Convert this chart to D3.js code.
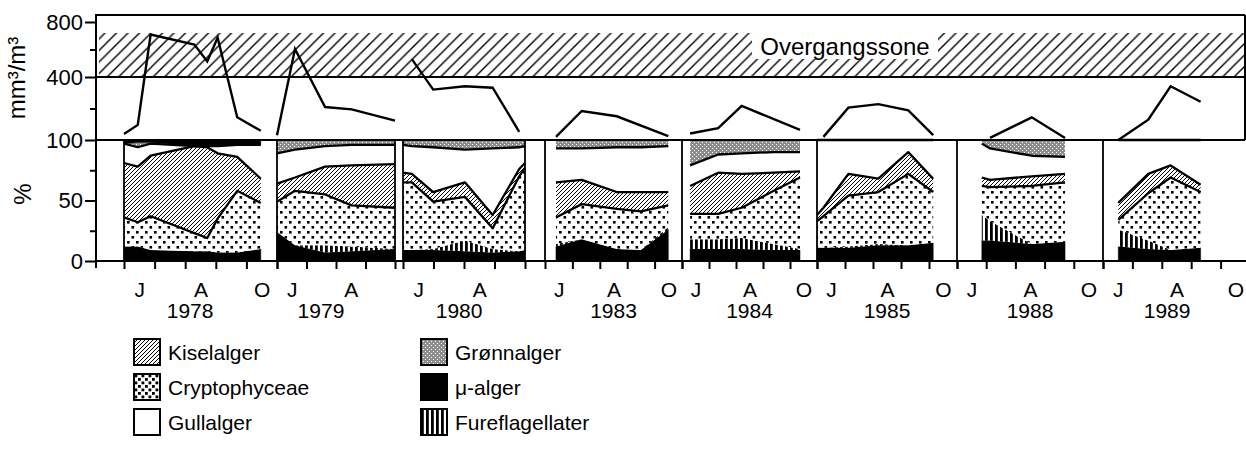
<!DOCTYPE html>
<html><head><meta charset="utf-8">
<script src="https://cdn.jsdelivr.net/npm/d3@7"></script>
<style>
html,body{margin:0;padding:0;background:#fff;}
svg{display:block;font-family:"Liberation Sans",Arial,Helvetica,sans-serif;}
</style></head><body>
<svg id="chart" width="1246" height="469"></svg>
<script>
// ---------------- DATA ----------------
const years = ["1978","1979","1980","1983","1984","1985","1988","1989"];
const seriesNames = ["μ-alger","Fureflagellater","Cryptophyceae","Kiselalger","Gullalger","Grønnalger","Andre"];
// sampling dates as month number (6 = 1 June, 7 = 1 July ...)
const sampleMonths = [
  [6.0, 6.45, 6.87, 8.30, 8.72, 9.06, 9.70, 10.47],
  [6.0, 6.61, 7.63, 8.53, 10.0],
  [6.0, 6.29, 6.99, 8.03, 8.94, 9.81, 10.0],
  [6.4, 7.34, 8.62, 9.5, 10.5],
  [6.3, 7.34, 8.21, 9.4, 10.37],
  [6.0, 6.23, 7.12, 8.19, 9.26, 10.15],
  [6.85, 7.13, 8.56, 9.70],
  [6.52, 7.54, 8.30, 9.32]
];
// total biomass, mm3/m3 (null = no value)
const biomass = [
  [128, 172, 709, 636, 513, 685, 208, 144],
  [123, 604, 257, 246, 192],
  [null, 530, 340, 356, 349, 139, null],
  [115, 238, 213, null, 118],
  [131, 156, 262, null, 148],
  [null, 115, 254, 271, 241, 123],
  [null, 110, 208, 110],
  [100, 197, 356, 282]
];
// composition, % of biomass
const muAlger = [
  [12, 12, 9, 8, 8, 7, 7, 10],
  [24, 13, 7, 8, 10],
  [9, 9, 9, 8, 7, 8, 9],
  [12, 18, 10, 9, 26],
  [10, 10, 10, 9, 9],
  [11, 11, 11, 13, 13, 15],
  [17, 17, 14, 16],
  [12, 10, 9, 11]
];
const fureflagellater = [
  [0, 0, 0, 0, 0, 0, 0, 0],
  [0, 0, 6, 4, 0],
  [0, 0, 1, 9, 3, 0, 0],
  [2, 0, 0, 0, 2],
  [8, 8, 9, 5, 1],
  [0, 0, 1, 1, 0, 0],
  [21, 16, 0, 0],
  [14, 7, 0, 0]
];
const cryptophyceae = [
  [24, 20, 28, 15, 11, 28, 51, 38],
  [25, 45, 42, 34, 34],
  [56, 56, 39, 36, 17, 62, 68],
  [22, 29, 33, 32, 18],
  [21, 21, 25, 44, 59],
  [22, 26, 42, 43, 59, 42],
  [24, 28, 48, 49],
  [8, 39, 60, 46]
];
const kiselalger = [
  [45, 46, 50, 72, 75, 54, 28, 20],
  [15, 11, 23, 33, 36],
  [8, 7, 8, 12, 11, 6, 4],
  [29, 20, 14, 16, 11],
  [23, 34, 28, 15, 5],
  [5, 7, 18, 11, 18, 11],
  [7, 6, 8, 7],
  [14, 16, 10, 6]
];
const gullalger = [
  [16, 16, 10, 0, 1, 6, 10, 28],
  [25, 23, 17, 17, 16],
  [23, 23, 37, 27, 55, 18, 14],
  [28, 26, 37, 37, 38],
  [17, 15, 17, 17, 16],
  [62, 56, 28, 32, 10, 32],
  [28, 26, 17, 14],
  [52, 28, 21, 37]
];
const gronnalger = [
  [0, 4, 1, 0, 0, 0, 0, 0],
  [11, 8, 5, 4, 4],
  [4, 5, 6, 8, 7, 6, 5],
  [7, 7, 6, 6, 5],
  [21, 12, 11, 10, 10],
  [0, 0, 0, 0, 0, 0],
  [3, 7, 13, 14],
  [0, 0, 0, 0]
];
const andre = [
  [3, 2, 2, 5, 5, 5, 4, 4],
  [0, 0, 0, 0, 0],
  [0, 0, 0, 0, 0, 0, 0],
  [0, 0, 0, 0, 0],
  [0, 0, 0, 0, 0],
  [0, 0, 0, 0, 0, 0],
  [0, 0, 0, 0],
  [0, 0, 0, 0]
];
const topTicks = [100, 400, 800];
const topMinorTicks = [250, 600];
const bottomTicks = [0, 50, 100];
const bottomMinorTicks = [25, 75];
const monthTickValues = [6, 7, 8, 9, 10, 11];
const monthLabelText = ["J", "A", "O"];
const monthLabelPos = [6.5, 8.5, 10.5];
const transitionZone = [400, 720];
const zoneLabel = "Overgangssone";
const topAxisTitle = "mm³/m³";
const bottomAxisTitle = "%";
const legendNames = ["Kiselalger","Cryptophyceae","Gullalger","Grønnalger","μ-alger","Fureflagellater"];

// ---------------- LAYOUT ----------------
const W = 1246, H = 469;
const axisX = 96, rightX = 1245;
const topY = 15, midY = 140, baseY = 261;
const panelRange = [[124,277],[277,395],[403,525],[545,682],[682,817],[817,957],[957,1103],[1103,1250]];
const panelDomain = [[6,11],[6,10],[6,10],[6,11],[6,11],[6,11],[6,11],[6,11]];
const yearLabelAt = [8.16, 7.49, 7.84, 8.5, 8.5, 8.5, 8.5, 8.18];

const svg = d3.select("#chart");
svg.append("rect").attr("width",W).attr("height",H).attr("fill","#fff");
const defs = svg.append("defs");
function pat(id,w,h,bg){const p=defs.append("pattern").attr("id",id).attr("patternUnits","userSpaceOnUse").attr("width",w).attr("height",h);p.append("rect").attr("width",w).attr("height",h).attr("fill",bg||"#fff");return p;}
let p = pat("pKisel",4,4);
p.append("path").attr("d","M-1,1L1,-1M0,4L4,0M3,5L5,3").attr("stroke","#000").attr("stroke-width",1);
p = pat("pDots",9,10);
p.append("rect").attr("x",1).attr("y",1).attr("width",2.6).attr("height",2.6).attr("fill","#000");
p.append("rect").attr("x",5.5).attr("y",6).attr("width",2.6).attr("height",2.6).attr("fill","#000");
p = pat("pGreen",4,4,"#8c8c8c");
p.append("rect").attr("x",0).attr("y",0).attr("width",1).attr("height",1).attr("fill","#fff");
p.append("rect").attr("x",2).attr("y",2).attr("width",1).attr("height",1).attr("fill","#fff");
p = pat("pFure",5,10);
p.append("rect").attr("x",0).attr("y",0).attr("width",2.8).attr("height",10).attr("fill","#000");
p = pat("pZone",11.5,11.5);
p.append("path").attr("d","M0,11.5L11.5,0M-2,2L2,-2M9.5,13.5L13.5,9.5").attr("stroke","#000").attr("stroke-width",1.4);
p = pat("pDotsL",7,7);
p.append("rect").attr("x",0.5).attr("y",0.5).attr("width",2.8).attr("height",2.8).attr("fill","#000");
p.append("rect").attr("x",4).attr("y",4).attr("width",2.8).attr("height",2.8).attr("fill","#000");

const fills = {"μ-alger":"#000","Fureflagellater":"url(#pFure)","Cryptophyceae":"url(#pDots)","Kiselalger":"url(#pKisel)","Gullalger":"#fff","Grønnalger":"url(#pGreen)","Andre":"#000"};
const seriesData = {"μ-alger":muAlger,"Fureflagellater":fureflagellater,"Cryptophyceae":cryptophyceae,"Kiselalger":kiselalger,"Gullalger":gullalger,"Grønnalger":gronnalger,"Andre":andre};

const yTop = d3.scaleLinear().domain([100,400,800]).range([midY,77,22]);
const yBot = d3.scaleLinear().domain([0,100]).range([baseY,midY]);

// ---- top panel ----
svg.append("rect").attr("x",axisX+3).attr("y",yTop(transitionZone[1])).attr("width",rightX-axisX-4)
  .attr("height",yTop(transitionZone[0])-yTop(transitionZone[1])).attr("fill","url(#pZone)");
svg.append("rect").attr("x",752).attr("y",yTop(transitionZone[1])-1).attr("width",186).attr("height",27).attr("fill","#fff");
svg.append("text").attr("x",845).attr("y",55).attr("text-anchor","middle").attr("font-size",24).text(zoneLabel);
const frame = svg.append("g").attr("stroke","#000").attr("fill","none");
frame.append("line").attr("x1",axisX).attr("x2",rightX).attr("y1",topY).attr("y2",topY).attr("stroke-width",2);
frame.append("line").attr("x1",rightX).attr("x2",rightX).attr("y1",topY).attr("y2",midY).attr("stroke-width",2);
frame.append("line").attr("x1",axisX).attr("x2",rightX).attr("y1",yTop(400)).attr("y2",yTop(400)).attr("stroke-width",2);

// ---- bottom panels ----
const gB = svg.append("g");
years.forEach((yr,i)=>{
  const x = d3.scaleLinear().domain(panelDomain[i]).range(panelRange[i]);
  const rows = sampleMonths[i].map((m,j)=>{const r={m}; seriesNames.forEach(k=>r[k]=seriesData[k][i][j]); return r;});
  const stacked = d3.stack().keys(seriesNames)(rows);
  const area = d3.area().x(d=>x(d.data.m)).y0(d=>yBot(d[0])).y1(d=>yBot(d[1]));
  gB.append("g").selectAll("path").data(stacked).join("path").attr("d",area).attr("fill",s=>fills[s.key]).attr("stroke",s=>fills[s.key]==="#000"?"#000":"none").attr("stroke-width",0.5);
  const edge = d3.line().x(d=>x(d.data.m)).y(d=>yBot(d[1]));
  gB.append("g").selectAll("path").data(stacked.filter(s=>["Cryptophyceae","Kiselalger","Gullalger"].includes(s.key)))
    .join("path").attr("d",edge).attr("fill","none").attr("stroke","#000").attr("stroke-width",2.3).attr("stroke-linejoin","round");
  // biomass line
  const pts = sampleMonths[i].map((m,j)=>[m,biomass[i][j]]).filter(d=>d[1]!=null);
  svg.append("path").attr("d",d3.line().x(d=>x(d[0])).y(d=>yTop(d[1]))(pts)).attr("fill","none").attr("stroke","#000").attr("stroke-width",2.4).attr("stroke-linejoin","miter");
  // separators
  const seps=[panelRange[i][0]]; if(panelDomain[i][1]===10) seps.push(panelRange[i][1]);
  seps.forEach(sx=>svg.append("line").attr("x1",sx).attr("x2",sx).attr("y1",midY).attr("y2",baseY).attr("stroke","#000").attr("stroke-width",1.8));
  // month ticks
  const ax = d3.axisBottom(x).tickValues(monthTickValues.filter(v=>v<=panelDomain[i][1])).tickSize(8).tickFormat("");
  const ga = svg.append("g").attr("transform",`translate(0,${baseY})`).call(ax);
  ga.select(".domain").remove(); ga.selectAll("line").attr("stroke-width",2);
  const lab = d3.axisBottom(x).tickValues(monthLabelPos.filter(v=>v<panelDomain[i][1])).tickSize(0).tickFormat(v=>monthLabelText[monthLabelPos.indexOf(v)]);
  const gl = svg.append("g").attr("transform",`translate(0,${baseY})`).call(lab);
  gl.select(".domain").remove();
  gl.selectAll("text").attr("font-size",21).attr("font-family","Liberation Sans, Arial, sans-serif").attr("fill","#000").attr("dy",0).attr("y",36);
  svg.append("text").attr("x",x(yearLabelAt[i])).attr("y",318).attr("text-anchor","middle").attr("font-size",21).text(yr);
});

// mid line & base axis
svg.append("line").attr("x1",axisX).attr("x2",rightX).attr("y1",midY).attr("y2",midY).attr("stroke","#000").attr("stroke-width",2.2);
svg.append("line").attr("x1",axisX).attr("x2",W).attr("y1",baseY).attr("y2",baseY).attr("stroke","#000").attr("stroke-width",2);
svg.append("line").attr("x1",axisX).attr("x2",axisX).attr("y1",topY-1).attr("y2",baseY+7).attr("stroke","#000").attr("stroke-width",2);

// y axes
function yAxis(scale, vals, size, fmt){
  const g = svg.append("g").attr("transform",`translate(${axisX},0)`).call(d3.axisLeft(scale).tickValues(vals).tickSize(size).tickPadding(2).tickFormat(fmt));
  g.select(".domain").remove(); g.selectAll("line").attr("stroke-width",2);
  g.selectAll("text").attr("font-size",22).attr("font-family","Liberation Sans, Arial, sans-serif").attr("fill","#000");
}
yAxis(yTop, topTicks, 11, d3.format("d"));
yAxis(yTop, topMinorTicks, 6, "");
yAxis(yBot, bottomTicks.filter(v=>v<100), 11, d3.format("d"));
yAxis(yBot, bottomMinorTicks, 6, "");
svg.append("text").attr("transform","translate(25,78) rotate(-90)").attr("text-anchor","middle").attr("font-size",24).text(topAxisTitle);
svg.append("text").attr("transform","translate(31,194) rotate(-90)").attr("text-anchor","middle").attr("font-size",24).text(bottomAxisTitle);

// legend
const legendFill = {"Kiselalger":"url(#pKisel)","Cryptophyceae":"url(#pDotsL)","Gullalger":"#fff","Grønnalger":"url(#pGreen)","μ-alger":"#000","Fureflagellater":"url(#pFure)"};
const lg = svg.append("g").selectAll("g").data(legendNames).join("g")
  .attr("transform",(d,i)=>`translate(${i<3?134:421},${339+(i%3)*35})`);
lg.append("rect").attr("width",26).attr("height",26).attr("fill",d=>legendFill[d]).attr("stroke","#000").attr("stroke-width",2);
lg.append("text").attr("x",34).attr("y",21).attr("font-size",21).text(d=>d);
</script></body></html>
